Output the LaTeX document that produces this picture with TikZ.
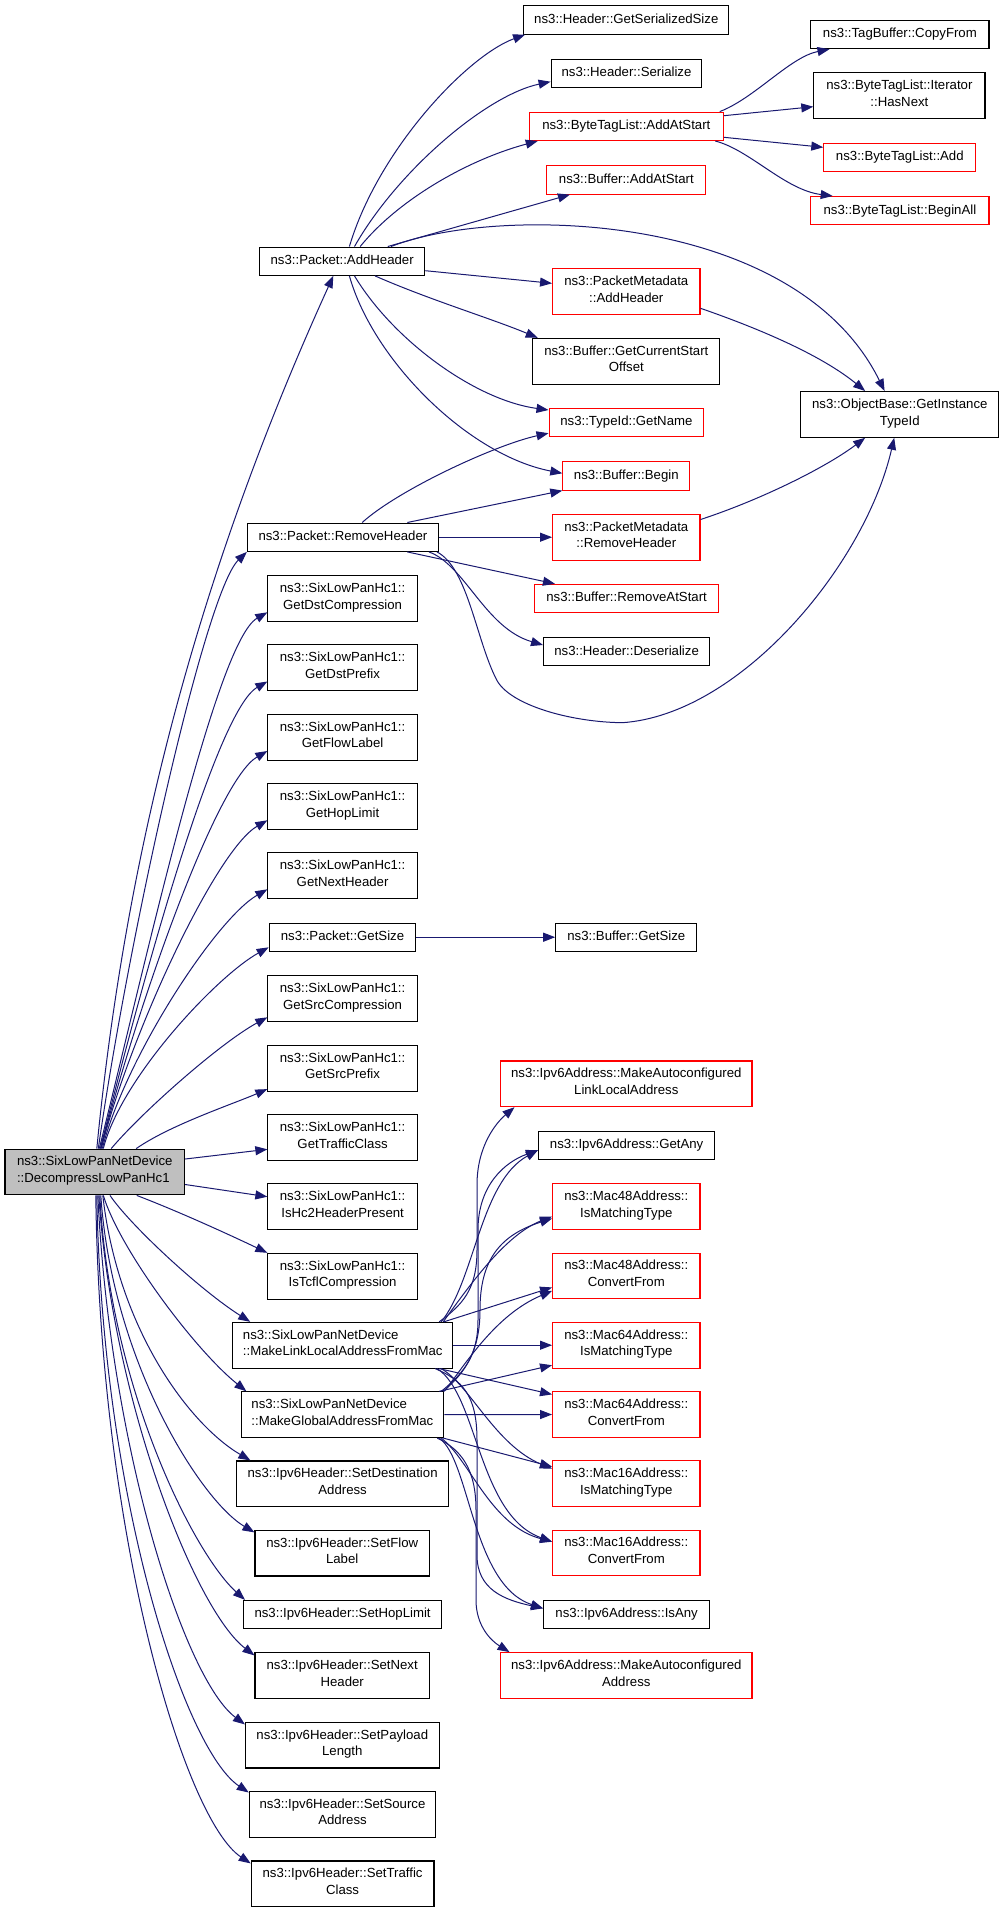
\documentclass[tikz,border=0pt]{standalone}
\usepackage{fontspec}
\setmainfont{Liberation Sans}
\usetikzlibrary{arrows.meta,calc}
\definecolor{edgec}{HTML}{191970}
\definecolor{redc}{HTML}{FF0000}
\definecolor{mainfill}{HTML}{BFBFBF}
\newcommand{\fnt}{\fontsize{13.2}{16.7}\selectfont}
\begin{document}
\begin{tikzpicture}[x=1pt,y=-1pt,
 box/.style={draw=black,line width=1.1pt,fill=white,inner sep=0pt,minimum height=28.3pt,align=center,font=\fnt,
   execute at begin node=\strut, execute at end node=\strut},
 rbox/.style={box,draw=redc},
 two/.style={minimum height=45.7pt},
 cedge/.style={draw=edgec,line width=1pt,-{Triangle[length=12pt,width=9pt]}}]
\fill[white] (0,0) rectangle (1005,1912);
\useasboundingbox (0,0) rectangle (1005,1912);

% ---------- nodes ----------
\node[box,two,fill=mainfill,align=left,minimum width=179.7pt] (main) at (94.8,1172) {ns3::SixLowPanNetDevice\\::DecompressLowPanHc1};

\node[box,minimum width=204.9pt] (gss) at (626.3,19.9) {ns3::Header::GetSerializedSize};
\node[box,minimum width=150.7pt] (ser) at (626.5,73.2) {ns3::Header::Serialize};
\node[rbox,minimum width=194pt] (btlaas) at (626.3,126.3) {ns3::ByteTagList::AddAtStart};
\node[rbox,minimum width=159.2pt] (baas) at (626.3,179.9) {ns3::Buffer::AddAtStart};
\node[rbox,two,minimum width=147.4pt] (pmah) at (626.3,291.5) {ns3::PacketMetadata\\::AddHeader};
\node[box,two,minimum width=187.2pt] (bgcso) at (626.3,361.2) {ns3::Buffer::GetCurrentStart\\Offset};
\node[rbox,minimum width=154.7pt] (tgn) at (626.4,422.5) {ns3::TypeId::GetName};
\node[rbox,minimum width=126.9pt] (bbeg) at (626.3,475.9) {ns3::Buffer::Begin};
\node[rbox,two,minimum width=147.4pt] (pmrh) at (626.3,537.2) {ns3::PacketMetadata\\::RemoveHeader};
\node[rbox,minimum width=184pt] (bras) at (626.6,598.5) {ns3::Buffer::RemoveAtStart};
\node[box,minimum width=166.1pt] (hdes) at (626.6,651.7) {ns3::Header::Deserialize};
\node[box,minimum width=141.1pt] (bgs) at (626.3,937.2) {ns3::Buffer::GetSize};
\node[rbox,two,minimum width=251.3pt] (malla) at (626.3,1083.8) {ns3::Ipv6Address::MakeAutoconfigured\\LinkLocalAddress};
\node[box,minimum width=176.3pt] (gany) at (626.6,1145.2) {ns3::Ipv6Address::GetAny};
\node[rbox,two,minimum width=147.4pt] (m48im) at (626.3,1206.5) {ns3::Mac48Address::\\IsMatchingType};
\node[rbox,two,minimum width=147.4pt] (m48cf) at (626.3,1275.9) {ns3::Mac48Address::\\ConvertFrom};
\node[rbox,two,minimum width=147.4pt] (m64im) at (626.3,1345.2) {ns3::Mac64Address::\\IsMatchingType};
\node[rbox,two,minimum width=147.4pt] (m64cf) at (626.3,1414.5) {ns3::Mac64Address::\\ConvertFrom};
\node[rbox,two,minimum width=147.4pt] (m16im) at (626.3,1483.7) {ns3::Mac16Address::\\IsMatchingType};
\node[rbox,two,minimum width=147.4pt] (m16cf) at (626.3,1553) {ns3::Mac16Address::\\ConvertFrom};
\node[box,minimum width=166.1pt] (isany) at (626.6,1614.5) {ns3::Ipv6Address::IsAny};
\node[rbox,two,minimum width=251.3pt] (mauto) at (626.3,1675.5) {ns3::Ipv6Address::MakeAutoconfigured\\Address};

\node[box,minimum width=178.1pt] (tbcf) at (899.9,34.5) {ns3::TagBuffer::CopyFrom};
\node[box,two,minimum width=171.1pt] (iter) at (899.4,95.7) {ns3::ByteTagList::Iterator\\::HasNext};
\node[rbox,minimum width=151.9pt] (btladd) at (899.8,157.2) {ns3::ByteTagList::Add};
\node[rbox,minimum width=178.1pt] (btlba) at (899.9,210.7) {ns3::ByteTagList::BeginAll};
\node[box,two,minimum width=198.2pt] (obg) at (899.8,414.4) {ns3::ObjectBase::GetInstance\\TypeId};

\node[box,minimum width=165.1pt] (pah) at (342.2,261.2) {ns3::Packet::AddHeader};
\node[box,minimum width=191pt] (prh) at (342.9,537.2) {ns3::Packet::RemoveHeader};
\node[box,two,minimum width=149.4pt] (gdc) at (342.6,598.5) {ns3::SixLowPanHc1::\\GetDstCompression};
\node[box,two,minimum width=149.4pt] (gdp) at (342.6,667.7) {ns3::SixLowPanHc1::\\GetDstPrefix};
\node[box,two,minimum width=149.4pt] (gfl) at (342.6,737.2) {ns3::SixLowPanHc1::\\GetFlowLabel};
\node[box,two,minimum width=149.4pt] (ghl) at (342.6,806.5) {ns3::SixLowPanHc1::\\GetHopLimit};
\node[box,two,minimum width=149.4pt] (gnh) at (342.6,875.5) {ns3::SixLowPanHc1::\\GetNextHeader};
\node[box,minimum width=146.6pt] (pgs) at (342.5,937.2) {ns3::Packet::GetSize};
\node[box,two,minimum width=149.4pt] (gsc) at (342.6,998.5) {ns3::SixLowPanHc1::\\GetSrcCompression};
\node[box,two,minimum width=149.4pt] (gsp) at (342.6,1068.2) {ns3::SixLowPanHc1::\\GetSrcPrefix};
\node[box,two,minimum width=149.4pt] (gtc) at (342.6,1137.5) {ns3::SixLowPanHc1::\\GetTrafficClass};
\node[box,two,minimum width=149.4pt] (ihp) at (342.6,1206.5) {ns3::SixLowPanHc1::\\IsHc2HeaderPresent};
\node[box,two,minimum width=149.4pt] (itc) at (342.6,1276.2) {ns3::SixLowPanHc1::\\IsTcflCompression};
\node[box,two,align=left,minimum width=219.9pt] (mll) at (342.7,1345.2) {ns3::SixLowPanNetDevice\\::MakeLinkLocalAddressFromMac};
\node[box,two,align=left,minimum width=202.7pt] (mga) at (342.4,1414.7) {ns3::SixLowPanNetDevice\\::MakeGlobalAddressFromMac};
\node[box,two,minimum width=212.1pt] (sdst) at (342.6,1483.8) {ns3::Ipv6Header::SetDestination\\Address};
\node[box,two,minimum width=174.4pt] (sflow) at (342.2,1553.1) {ns3::Ipv6Header::SetFlow\\Label};
\node[box,minimum width=198.2pt] (shop) at (342.6,1614.5) {ns3::Ipv6Header::SetHopLimit};
\node[box,two,minimum width=174.4pt] (snext) at (342.2,1675.5) {ns3::Ipv6Header::SetNext\\Header};
\node[box,two,minimum width=193.6pt] (spay) at (342.3,1745.1) {ns3::Ipv6Header::SetPayload\\Length};
\node[box,two,minimum width=186.4pt] (ssrc) at (342.5,1814.2) {ns3::Ipv6Header::SetSource\\Address};
\node[box,two,minimum width=182.7pt] (strf) at (342.6,1883.8) {ns3::Ipv6Header::SetTraffic\\Class};

% ---------- edges from main ----------
\draw[cedge] ($(main.north)+(2,0)$) .. controls (125,859) and (195,580) .. ($(pah.south)+(-8.9,0)$);
\draw[cedge] ($(main.north)+(3.5,0)$) .. controls (128,940) and (205,592) .. (prh.south west);
\draw[cedge] ($(main.north)+(4.5,0)$) .. controls (146,961) and (216,641.7) .. ($(gdc.south west)+(0,-9.6)$);
\draw[cedge] ($(main.north)+(5.5,0)$) .. controls (141,985) and (216,711) .. ($(gdp.south west)+(0,-9.6)$);
\draw[cedge] ($(main.north)+(6,0)$) .. controls (136,1010) and (216,780.6) .. ($(gfl.south west)+(0,-9.6)$);
\draw[cedge] ($(main.north)+(6.5,0)$) .. controls (130,1034) and (216,850) .. ($(ghl.south west)+(0,-9.6)$);
\draw[cedge] ($(main.north)+(7.5,0)$) .. controls (125,1058) and (216,918.9) .. ($(gnh.south west)+(0,-9.6)$);
\draw[cedge] ($(main.north)+(8.5,0)$) .. controls (121,1078) and (217,976) .. ($(pgs.south west)+(0,-4.6)$);
\draw[cedge] ($(main.north)+(16.4,0)$) .. controls (141,1113) and (220,1043) .. ($(gsc.south west)+(0,-4.6)$);
\draw[cedge] ($(main.north)+(41.4,0)$) .. controls (170,1125) and (233,1104) .. ($(gsp.south west)+(0,-2.5)$);
\draw[cedge] ($(main.east)+(0,-13)$) -- ($(gtc.west)+(0,11.8)$);
\draw[cedge] ($(main.east)+(0,12.5)$) -- ($(ihp.west)+(0,-9.8)$);
\draw[cedge] ($(main.south)+(41.9,0)$) .. controls (180,1212) and (230,1235) .. (itc.north west);
\draw[cedge] ($(main.south)+(15.2,0)$) .. controls (130,1225) and (200,1290) .. ($(mll.north west)+(18,0)$);
\draw[cedge] ($(main.south)+(8.5,0)$) .. controls (120,1250) and (195,1350) .. ($(mga.north west)+(5.9,0)$);
\draw[cedge] ($(main.south)+(8,0)$) .. controls (118,1330) and (190,1425) .. ($(sdst.north west)+(14.4,0)$);
\draw[cedge] ($(main.south)+(6,0)$) .. controls (112,1360) and (200,1500) .. ($(sflow.north west)+(0,2.7)$);
\draw[cedge] ($(main.south)+(5,0)$) .. controls (110,1390) and (195,1555) .. ($(shop.north west)+(2,0)$);
\draw[cedge] ($(main.south)+(4,0)$) .. controls (112,1400) and (195,1610) .. ($(snext.north west)+(0,3.3)$);
\draw[cedge] ($(main.south)+(3,0)$) .. controls (110,1450) and (185,1680) .. ($(spay.north west)+(0,2.7)$);
\draw[cedge] ($(main.south)+(2,0)$) .. controls (102,1500) and (185,1750) .. ($(ssrc.north west)+(0,1.7)$);
\draw[cedge] ($(main.south)+(1,0)$) .. controls (100,1540) and (185,1820) .. ($(strf.north west)+(0,3)$);

% ---------- edges from Packet::AddHeader ----------
\draw[cedge] ($(pah.north)+(7.2,0)$) .. controls (378,150) and (467,56) .. ($(gss.south west)+(1.8,0)$);
\draw[cedge] ($(pah.north)+(12.3,0)$) .. controls (398,170) and (487,95) .. ($(ser.west)+(0,8.5)$);
\draw[cedge] ($(pah.north)+(18,0)$) .. controls (398,200) and (467,160) .. ($(btlaas.south west)+(9,0)$);
\draw[cedge] ($(pah.north)+(45.6,0)$) -- ($(baas.south west)+(23.8,0)$);
\draw[cedge] ($(pah.north)+(48.8,0)$) .. controls (497,205) and (795,210) .. ($(obg.north)+(-15.2,0)$);
\draw[cedge] ($(pah.east)+(0,9.5)$) -- ($(pmah.west)+(0,-8.2)$);
\draw[cedge] ($(pah.south)+(32.8,0)$) .. controls (430,300) and (490,318) .. ($(bgcso.north west)+(5.6,0)$);
\draw[cedge] ($(pah.south)+(12.3,0)$) .. controls (393,340) and (475,400) .. ($(tgn.west)+(0,-12.5)$);
\draw[cedge] ($(pah.south)+(7.2,0)$) .. controls (373,360) and (468,455) .. ($(bbeg.west)+(0,-2.6)$);

% ---------- edges from ByteTagList::AddAtStart ----------
\draw[cedge] ($(btlaas.north east)+(-4.1,0)$) .. controls (755,98) and (790,57) .. ($(tbcf.south west)+(19.2,0)$);
\draw[cedge] ($(btlaas.east)+(0,-10.6)$) -- ($(iter.west)+(0,11)$);
\draw[cedge] ($(btlaas.east)+(0,11)$) -- ($(btladd.west)+(0,-9.9)$);
\draw[cedge] ($(btlaas.south east)+(-8.6,0)$) .. controls (750,150) and (785,190) .. ($(btlba.north west)+(22.4,0)$);

% ---------- PacketMetadata -> ObjectBase ----------
\draw[cedge] ($(pmah.east)+(0,16.8)$) .. controls (740,322) and (815,350) .. ($(obg.north west)+(65,0)$);
\draw[cedge] ($(pmrh.north east)+(0,5.7)$) .. controls (760,500) and (825,468) .. ($(obg.south west)+(65,0)$);

% ---------- edges from Packet::RemoveHeader ----------
\draw[cedge] ($(prh.north)+(19.3,0)$) .. controls (398,490) and (495,445) .. ($(tgn.south west)+(0,-4)$);
\draw[cedge] ($(prh.north)+(64.4,0)$) -- (bbeg.south west);
\draw[cedge] (prh.east) -- (pmrh.west);
\draw[cedge] ($(prh.south)+(64.4,0)$) -- ($(bras.north west)+(20.9,0)$);
\draw[cedge] ($(prh.south)+(86,0)$) .. controls (465,565) and (485,628) .. ($(hdes.west)+(0,-6.7)$);
\draw[cedge] ($(prh.south east)+(-2,0)$) .. controls (468,568) and (476,640) .. (496.7,680)
   .. controls (510,705) and (570,722) .. (622,722.7)
   .. controls (740,715) and (865,565) .. ($(obg.south)+(-5.6,0)$);

% ---------- Packet::GetSize ----------
\draw[cedge] (pgs.east) -- (bgs.west);

% ---------- edges from MakeLinkLocalAddressFromMac ----------
\draw[cedge] ($(mll.north east)+(-14,0)$) .. controls (462,1305) and (477,1290) .. (477,1250) -- (477,1185)
   .. controls (477,1145) and (497,1122) .. ($(malla.south west)+(14.4,0)$);
\draw[cedge] ($(mll.north east)+(-12,0)$) .. controls (475,1280) and (480,1182) .. ($(gany.west)+(0,5)$);
\draw[cedge] ($(mll.north east)+(-10,0)$) .. controls (470,1285) and (505,1235) .. ($(m48im.west)+(0,10)$);
\draw[cedge] ($(mll.north east)+(-9.3,0)$) -- ($(m48cf.west)+(0,11.5)$);
\draw[cedge] (mll.east) -- (m64im.west);
\draw[cedge] ($(mll.south east)+(-14,0)$) -- ($(m64cf.north west)+(0,3.3)$);
\draw[cedge] ($(mll.south east)+(-12,0)$) .. controls (470,1385) and (495,1445) .. ($(m16im.west)+(0,-15)$);
\draw[cedge] ($(mll.south east)+(-16,0)$) .. controls (478,1395) and (478,1515) .. ($(m16cf.west)+(0,-11.3)$);
\draw[cedge] ($(mll.south east)+(-18,0)$) .. controls (462,1380) and (477,1395) .. (477,1440) -- (477,1555)
   .. controls (477,1590) and (505,1600) .. ($(isany.west)+(0,-6.2)$);

% ---------- edges from MakeGlobalAddressFromMac ----------
\draw[cedge] ($(mga.north east)+(-3,0)$) .. controls (465,1372) and (478,1355) .. (478,1320) -- (478,1230)
   .. controls (478,1185) and (505,1162) .. ($(gany.west)+(0,5)$);
\draw[cedge] ($(mga.north east)+(-1,0)$) .. controls (466,1372) and (480,1350) .. (480,1310)
   .. controls (480,1260) and (500,1235) .. ($(m48im.west)+(0,12)$);
\draw[cedge] (mga.north east) .. controls (465,1365) and (495,1315) .. ($(m48cf.west)+(0,15)$);
\draw[cedge] ($(mga.north east)+(-5,0)$) -- ($(m64im.west)+(0,20)$);
\draw[cedge] (mga.east) -- (m64cf.west);
\draw[cedge] ($(mga.south east)+(-1,0)$) -- ($(m16im.west)+(0,-17)$);
\draw[cedge] ($(mga.south east)+(-3,0)$) .. controls (470,1460) and (490,1525) .. ($(m16cf.west)+(0,-11.3)$);
\draw[cedge] ($(mga.south east)+(-5,0)$) .. controls (470,1460) and (472,1585) .. ($(isany.west)+(0,-6.2)$);
\draw[cedge] ($(mga.south east)+(-7,0)$) .. controls (462,1450) and (476,1470) .. (476,1510) -- (476,1600)
   .. controls (476,1625) and (490,1640) .. ($(mauto.north west)+(9.4,0)$);
\end{tikzpicture}
\end{document}
